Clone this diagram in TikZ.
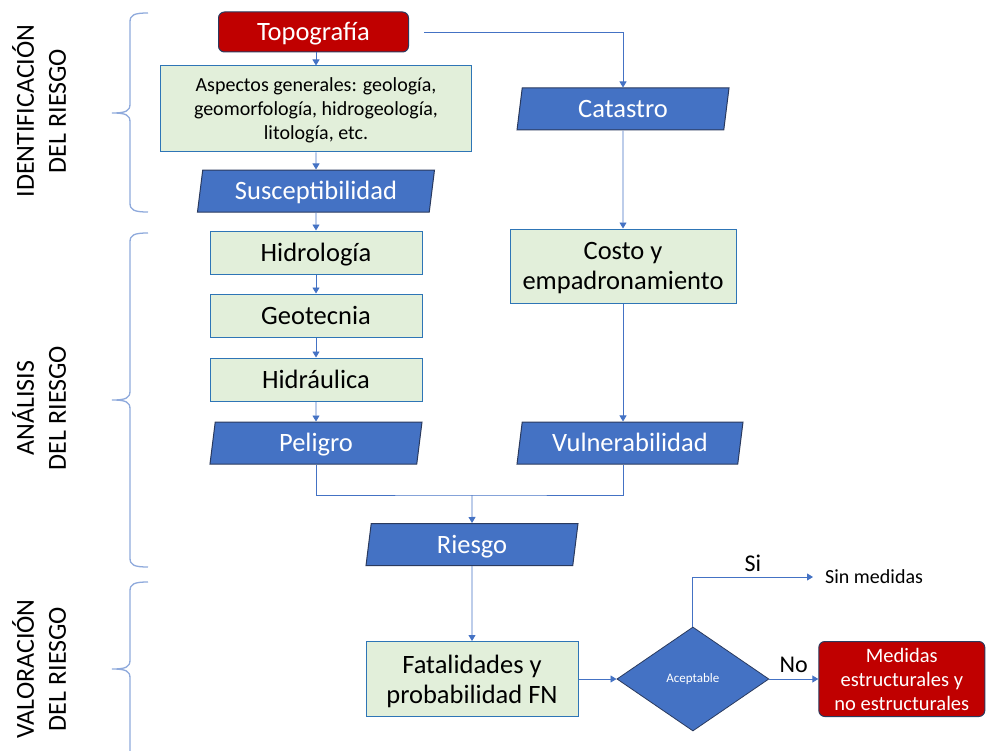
\documentclass[tikz,border=0pt]{standalone}
\usepackage{fontspec}
\setmainfont{Carlito}
\usetikzlibrary{positioning,shapes.geometric,arrows.meta}
\definecolor{rojo}{HTML}{C00000}
\definecolor{marino}{HTML}{2A3A5E}
\definecolor{azul}{HTML}{4472C4}
\definecolor{verde}{HTML}{E2EFDA}
\definecolor{bordeverde}{HTML}{2E75B6}
\definecolor{linea}{HTML}{4472C4}
\definecolor{llave}{HTML}{8FAADC}

\begin{document}
\begin{tikzpicture}[
  x=1pt, y=-1pt,
  every text node part/.style={align=center},
  grande/.style={font=\fontsize{26.5}{30}\selectfont},
  unalinea/.style={text height=17pt, text depth=0pt},
  inicio/.style={draw=marino, line width=1pt, rectangle, rounded corners=6pt, fill=rojo, text=white, inner sep=2pt, text depth=0pt},
  proc/.style={draw=bordeverde, line width=1pt, rectangle, fill=verde, text=black, inner sep=2pt, text depth=0pt},
  datos/.style={draw=marino, line width=1pt, trapezium, trapezium left angle=76, trapezium right angle=104,
    trapezium stretches body, fill=azul, text=white, minimum height=42pt, inner sep=2pt, grande, unalinea},
  decision/.style={draw=marino, line width=0.8pt, diamond, fill=azul, text=white, inner sep=0pt},
  arr/.style={-{Triangle[width=7pt,length=6pt]}, draw=linea, line width=0.9pt},
  lin/.style={draw=linea, line width=0.9pt},
  llavebox/.style={draw=llave, line width=1.3pt},
  lado/.style={rotate=90, font=\fontsize{26}{32}\selectfont, text depth=0pt}
]
  \useasboundingbox (0,0) rectangle (987,751);

  % columna izquierda
  \node[inicio, grande, unalinea, minimum width=190pt, minimum height=40pt] (topo) at (313.5,32) {Topografía};
  \node[proc, minimum width=311pt, minimum height=86pt, font=\fontsize{20}{24}\selectfont] (asp) at (316,109)
    {Aspectos generales: geología,\\geomorfología, hidrogeología,\\litología, etc.};
  \node[datos, minimum width=237pt, below=17pt of asp] (susc) {Susceptibilidad};
  \node[proc, grande, unalinea, minimum width=212pt, minimum height=43pt, below=18pt of susc] (hidro) {Hidrología};
  \node[proc, grande, unalinea, minimum width=212pt, minimum height=43pt, below=19pt of hidro] (geot) {Geotecnia};
  \node[proc, grande, unalinea, minimum width=212pt, minimum height=43pt, below=20pt of geot] (hidra) {Hidráulica};
  \node[datos, minimum width=212pt, below=20pt of hidra] (peli) {Peligro};

  % columna derecha
  \node[datos, minimum width=212pt] (cat) at (623,109) {Catastro};
  \node[proc, grande, minimum width=226pt, minimum height=74pt, below=98pt of cat] (costo) {Costo y\\empadronamiento};
  \node[datos, minimum width=226pt] (vuln) at (630,443) {Vulnerabilidad};

  % valoracion
  \node[datos, minimum width=212pt] (riesgo) at (472,544.5) {Riesgo};
  \node[proc, grande, minimum width=212pt, minimum height=75pt, below=75pt of riesgo] (fatal) {Fatalidades y\\probabilidad FN};
  \node[decision, minimum width=152pt, minimum height=104pt, font=\fontsize{13}{15}\selectfont, right=38pt of fatal] (acep) {Aceptable};
  \node[inicio, minimum width=166pt, minimum height=75pt, font=\fontsize{20.5}{24}\selectfont, right=49pt of acep] (medidas)
    {Medidas\\estructurales y\\no estructurales};
  \node[anchor=west, inner sep=0pt, font=\fontsize{20}{24}\selectfont] (sin) at (825,577) {Sin medidas};

  % conectores
  \draw[arr] (asp.north |- topo.south) -- (asp.north);
  \draw[arr] ([xshift=15pt]topo.east) -| (cat.north);
  \draw[arr] (asp) -- (susc);
  \draw[arr] (susc) -- (hidro);
  \draw[arr] (hidro) -- (geot);
  \draw[arr] (geot) -- (hidra);
  \draw[arr] (hidra) -- (peli);
  \draw[arr] (cat) -- (costo);
  \draw[arr] (costo.south) -- (costo.south |- vuln.north);
  \coordinate (junta) at (472,495);
  \draw[lin] (peli.south) |- (junta) -| (costo.south |- vuln.south);
  \draw[arr] (junta) -- (riesgo.north);
  \draw[arr] (riesgo) -- (fatal);
  \draw[arr] (fatal) -- (acep);
  \draw[arr] (acep.north) |- ([xshift=-12pt]sin.west) node[pos=0.75, above, inner sep=5pt, text depth=0pt, font=\fontsize{24}{28}\selectfont] {Si};
  \draw[arr] (acep) -- (medidas) node[midway, above, inner sep=6pt, text depth=0pt, font=\fontsize{24}{28}\selectfont] {No};

  % llaves
  \foreach \ya/\yb/\yc in {13/113/212, 233/400/567, 582/669/780}
    \draw[llavebox] (148,\ya) .. controls (134,\ya) and (130,\ya+2) .. (130,\ya+9) -- (130,\yb-9)
      .. controls (130,\yb-2) and (126,\yb) .. (112,\yb)
      .. controls (126,\yb) and (130,\yb+2) .. (130,\yb+9) -- (130,\yc-9)
      .. controls (130,\yc-2) and (134,\yc) .. (148,\yc);

  \node[lado] (lblid) at (39,111) {IDENTIFICACIÓN\\DEL RIESGO};
  \node[lado] (lblan) at (39,408) {ANÁLISIS\\DEL RIESGO};
  \node[lado] (lblva) at (39,669) {VALORACIÓN\\DEL RIESGO};
\end{tikzpicture}
\end{document}
